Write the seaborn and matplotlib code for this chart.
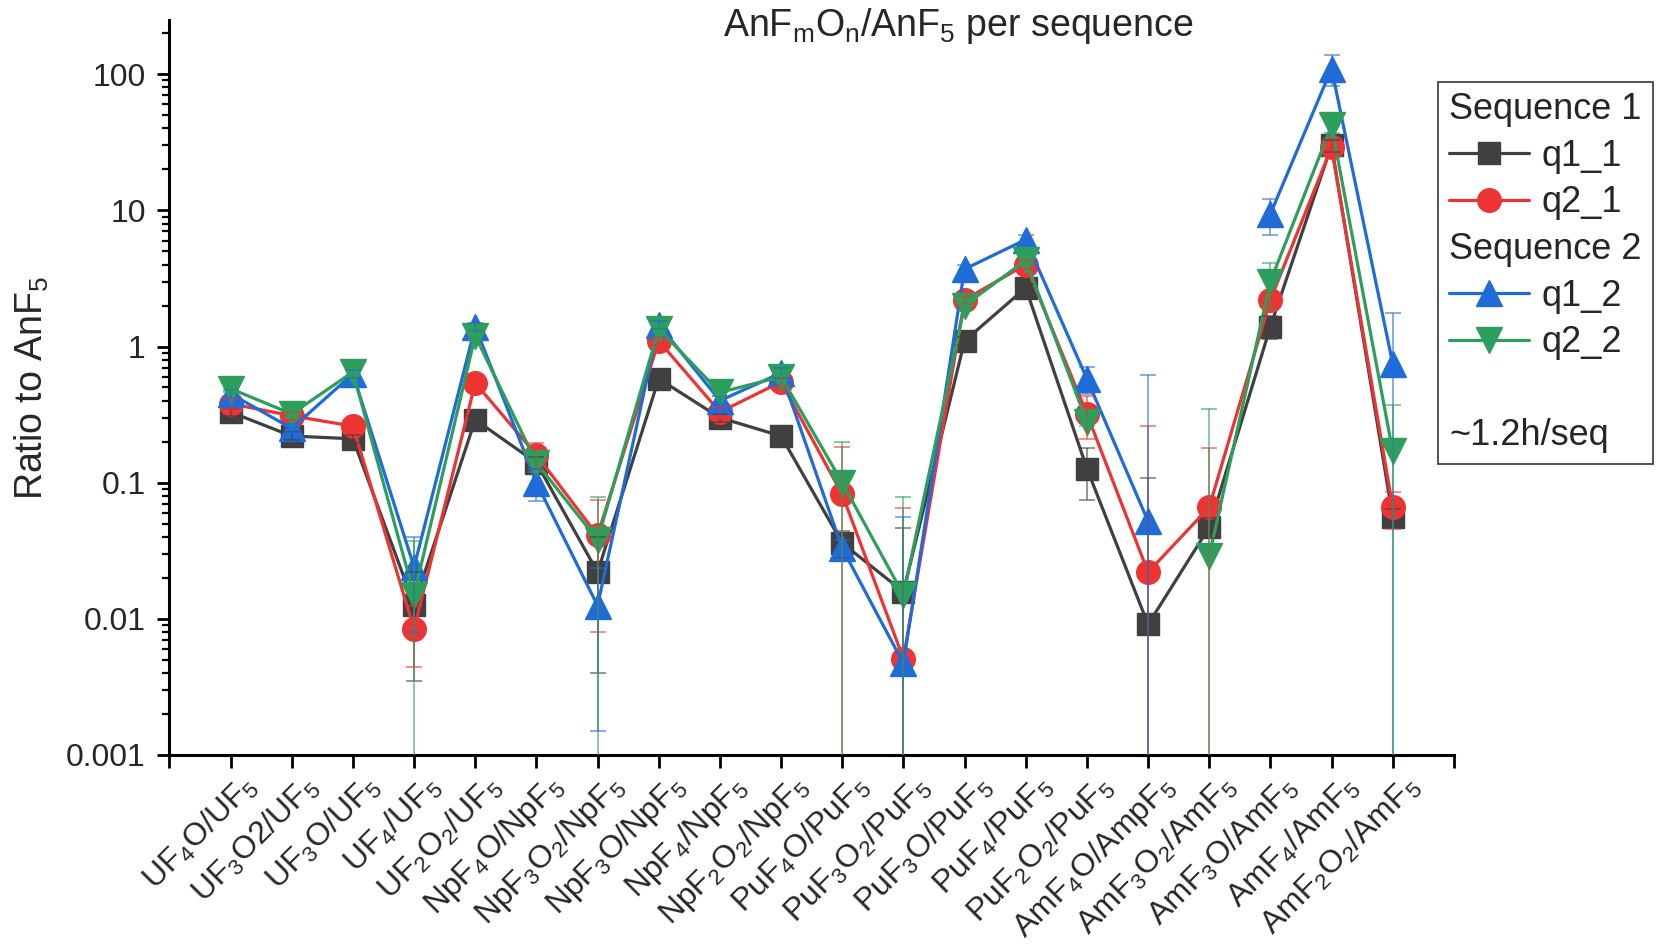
import numpy as np
import pandas as pd
import matplotlib
matplotlib.use("Agg")
import matplotlib.pyplot as plt
import seaborn as sns
from matplotlib.lines import Line2D
from matplotlib.ticker import FixedLocator, FixedFormatter, LogLocator, NullFormatter
from matplotlib.transforms import ScaledTranslation

# ---------------- data ----------------
categories = [
    r"UF$_\mathregular{4}$O/UF$_\mathregular{5}$",
    r"UF$_\mathregular{3}$O2/UF$_\mathregular{5}$",
    r"UF$_\mathregular{3}$O/UF$_\mathregular{5}$",
    r"UF$_\mathregular{4}$/UF$_\mathregular{5}$",
    r"UF$_\mathregular{2}$O$_\mathregular{2}$/UF$_\mathregular{5}$",
    r"NpF$_\mathregular{4}$O/NpF$_\mathregular{5}$",
    r"NpF$_\mathregular{3}$O$_\mathregular{2}$/NpF$_\mathregular{5}$",
    r"NpF$_\mathregular{3}$O/NpF$_\mathregular{5}$",
    r"NpF$_\mathregular{4}$/NpF$_\mathregular{5}$",
    r"NpF$_\mathregular{2}$O$_\mathregular{2}$/NpF$_\mathregular{5}$",
    r"PuF$_\mathregular{4}$O/PuF$_\mathregular{5}$",
    r"PuF$_\mathregular{3}$O$_\mathregular{2}$/PuF$_\mathregular{5}$",
    r"PuF$_\mathregular{3}$O/PuF$_\mathregular{5}$",
    r"PuF$_\mathregular{4}$/PuF$_\mathregular{5}$",
    r"PuF$_\mathregular{2}$O$_\mathregular{2}$/PuF$_\mathregular{5}$",
    r"AmF$_\mathregular{4}$O/AmpF$_\mathregular{5}$",
    r"AmF$_\mathregular{3}$O$_\mathregular{2}$/AmF$_\mathregular{5}$",
    r"AmF$_\mathregular{3}$O/AmF$_\mathregular{5}$",
    r"AmF$_\mathregular{4}$/AmF$_\mathregular{5}$",
    r"AmF$_\mathregular{2}$O$_\mathregular{2}$/AmF$_\mathregular{5}$",
]

q1_1 = [0.33, 0.22, 0.21, 0.0127, 0.29, 0.14, 0.022, 0.58, 0.30, 0.22,
        0.036, 0.0158, 1.1, 2.7, 0.127, 0.0091, 0.047, 1.4, 30.0, 0.056]
q2_1 = [0.38, 0.31, 0.26, 0.0084, 0.54, 0.16, 0.041, 1.1, 0.33, 0.55,
        0.082, 0.0051, 2.2, 4.0, 0.32, 0.022, 0.066, 2.2, 29.0, 0.066]
q1_2 = [0.45, 0.25, 0.63, 0.024, 1.4, 0.10, 0.0125, 1.45, 0.40, 0.64,
        0.033, 0.0047, 3.7, 6.1, 0.58, 0.052, np.nan, 9.4, 110.0, 0.75]
q2_2 = [0.49, 0.32, 0.65, 0.015, 1.2, 0.14, 0.038, 1.35, 0.46, 0.60,
        0.10, 0.015, 2.0, 4.3, 0.28, np.nan, 0.029, 3.0, 42.0, 0.17]

err_q1_1 = [0.02, 0.015, 0.015, 0.0092, 0.02, 0.015, 0.018, 0.04, 0.02, 0.02,
            0.008, 0.031, 0.08, 0.2, 0.053, 0.1, 0.008, 0.27, 3.0, 0.008]
err_q2_1 = [0.03, 0.02, 0.02, 0.004, 0.05, 0.035, 0.033, 0.08, 0.03, 0.04,
            0.1, 0.06, 0.15, 0.3, 0.11, 0.24, 0.114, 0.3, 3.0, 0.02]
err_q1_2 = [0.03, 0.02, 0.04, 0.016, 0.1, 0.027, 0.011, 0.1, 0.03, 0.05,
            0.005, 0.051, 0.3, 0.5, 0.13, 0.57, np.nan, 2.8, 28.0, 1.0]
err_q2_2 = [0.03, 0.02, 0.04, 0.022, 0.08, 0.02, 0.04, 0.1, 0.03, 0.04,
            0.1, 0.064, 0.15, 0.4, 0.02, np.nan, 0.32, 1.1, 5.0, 0.2]

series_names = ["q1_1", "q2_1", "q1_2", "q2_2"]
series_values = [q1_1, q2_1, q1_2, q2_2]
series_errors = [err_q1_1, err_q2_1, err_q1_2, err_q2_2]

y_tick_values = [0.001, 0.01, 0.1, 1, 10, 100]
y_tick_labels = ["0.001", "0.01", "0.1", "1", "10", "100"]

legend_labels = ["Sequence 1", "q1_1", "q2_1", "Sequence 2", "q1_2", "q2_2", " ", "~1.2h/seq"]
header_labels = ["Sequence 1", "Sequence 2", " ", "~1.2h/seq"]

# ---------------- style ----------------
colors = {"q1_1": "#404040", "q2_1": "#EE3333", "q1_2": "#1F6BD8", "q2_2": "#2E9E5C"}
markers = {"q1_1": "s", "q2_1": "o", "q1_2": "^", "q2_2": "v"}
msizes = {"q1_1": 16, "q2_1": 17, "q1_2": 19, "q2_2": 19}

sns.set_theme(style="ticks")
plt.rcParams["font.family"] = ["Liberation Sans", "DejaVu Sans"]
plt.rcParams["mathtext.fontset"] = "custom"
plt.rcParams["mathtext.rm"] = "Liberation Sans"
plt.rcParams["mathtext.it"] = "Liberation Sans:italic"
plt.rcParams["mathtext.bf"] = "Liberation Sans:bold"

fig = plt.figure(figsize=(16.61, 9.48), dpi=100)
ax = fig.add_axes([0.102, 0.2036, 0.7733, 0.7753])

pos = np.arange(1, len(categories) + 1)
rows = []
for name, vals, errs in zip(series_names, series_values, series_errors):
    for p, v, e in zip(pos, vals, errs):
        rows.append({"series": name, "pos": p, "value": v, "err": e})
df = pd.DataFrame(rows)
df["seg"] = df.groupby("series")["value"].transform(lambda s: s.isna().cumsum())

ax.set_yscale("log")
for name in series_names:
    sub = df[df["series"] == name].dropna(subset=["value"])
    c = colors[name]
    sns.lineplot(data=sub, x="pos", y="value", units="seg", estimator=None,
                 sort=False, color=c, marker=markers[name], markersize=msizes[name],
                 markeredgecolor=c, markeredgewidth=1, linewidth=2.3,
                 legend=False, ax=ax, zorder=3)
    ax.errorbar(sub["pos"], sub["value"], yerr=sub["err"].fillna(0).values, fmt="none",
                ecolor=c, elinewidth=1.1, capsize=6, capthick=1.1, alpha=0.7, zorder=4)

ax.set_xlim(0, 21)
ax.set_ylim(0.001, 250)

ax.xaxis.set_major_locator(FixedLocator(list(range(0, 22))))
ax.xaxis.set_major_formatter(FixedFormatter([""] + categories + [""]))
ax.yaxis.set_major_locator(FixedLocator(y_tick_values))
ax.yaxis.set_major_formatter(FixedFormatter(y_tick_labels))
ax.yaxis.set_minor_locator(LogLocator(base=10, subs=np.arange(2, 10)))
ax.yaxis.set_minor_formatter(NullFormatter())

ax.tick_params(axis="both", which="major", direction="out", length=9, width=2,
               color="black")
ax.tick_params(axis="y", which="minor", direction="out", length=5, width=1.6,
               color="black")
ax.tick_params(axis="y", labelsize=23, pad=8)
ax.tick_params(axis="x", labelsize=23, pad=10)

for lab in ax.get_xticklabels():
    lab.set_rotation(45)
    lab.set_ha("right")
    lab.set_va("center")
    lab.set_rotation_mode("anchor")
    lab.set_transform(lab.get_transform() + ScaledTranslation(22 / 100, 0, fig.dpi_scale_trans))

for s in ["top", "right"]:
    ax.spines[s].set_visible(False)
for s in ["left", "bottom"]:
    ax.spines[s].set_linewidth(2.2)
    ax.spines[s].set_color("black")

ax.set_xlabel("")
ax.set_ylabel(r"Ratio to AnF$_\mathregular{5}$", fontsize=27)
ax.yaxis.set_label_coords(-0.092, 0.5)

fig.text(0.577, 0.973,
         r"AnF$_\mathregular{m}$O$_\mathregular{n}$/AnF$_\mathregular{5}$ per sequence",
         ha="center", va="center", fontsize=27)

# ---------------- legend ----------------
handles = []
for lab in legend_labels:
    if lab in series_names:
        handles.append(Line2D([0], [0], color=colors[lab], marker=markers[lab],
                              markersize=msizes[lab], markeredgecolor=colors[lab],
                              linewidth=2.3))
    else:
        handles.append(Line2D([], [], linestyle="none", marker=None))

leg = ax.legend(handles, legend_labels, loc="upper left",
                bbox_to_anchor=(0.866, 0.914), bbox_transform=fig.transFigure,
                fontsize=26, frameon=True, fancybox=False, framealpha=1,
                edgecolor="#444444", handlelength=2.2, handletextpad=0.35,
                labelspacing=0.32, borderpad=0.3, borderaxespad=0, numpoints=1)
leg.get_frame().set_linewidth(1.3)

try:
    hbox = leg._legend_handle_box
    for col in hbox.get_children():
        for item in col.get_children():
            ch = item.get_children()
            if len(ch) == 2 and hasattr(ch[1], "get_text") and ch[1].get_text() in header_labels:
                ch[0].width = 0
                item.sep = 0
except Exception:
    pass

fig.savefig("out.png", dpi=100)
